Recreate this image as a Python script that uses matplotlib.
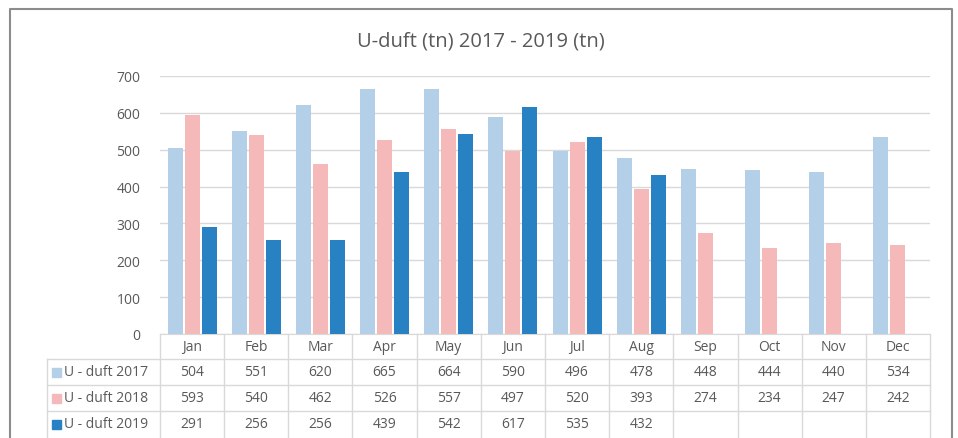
import matplotlib.pyplot as plt
import matplotlib.transforms as mtransforms
import numpy as np

# data
months = ["Jan", "Feb", "Mar", "Apr", "May", "Jun", "Jul", "Aug", "Sep", "Oct", "Nov", "Dec"]
series_names = ["U - duft 2017", "U - duft 2018", "U - duft 2019"]
duft_2017 = [504, 551, 620, 665, 664, 590, 496, 478, 448, 444, 440, 534]
duft_2018 = [593, 540, 462, 526, 557, 497, 520, 393, 274, 234, 247, 242]
duft_2019 = [291, 256, 256, 439, 542, 617, 535, 432, None, None, None, None]
y_ticks = [0, 100, 200, 300, 400, 500, 600, 700]

colors = ["#B3D0E8", "#F5B9B9", "#2781C2"]
grid_col = "#D9D9D9"
text_col = "#595959"
plt.rcParams["font.family"] = ["Open Sans", "DejaVu Sans"]

W, H = 958, 439
fig = plt.figure(figsize=(W / 100, H / 100), dpi=100)

def fx(px):
    return px / W

def fy(py):
    return 1 - py / H

# outer chart border (bottom edge is cut off in the picture)
frame_x = [fx(10), fx(10), fx(952), fx(952)]
frame_y = [fy(440), fy(10), fy(10), fy(440)]
fig.add_artist(plt.Line2D(frame_x, frame_y, transform=fig.transFigure, color="#8C8C8C", lw=1.5))

ax = fig.add_axes([fx(160), fy(335), fx(930) - fx(160), fy(77) - fy(335)])
x = np.arange(len(months))
all_series = [duft_2017, duft_2018, duft_2019]
offsets = [-0.265, 0, 0.265]
for vals, off, c in zip(all_series, offsets, colors):
    v = np.array([np.nan if a is None else a for a in vals], dtype=float)
    ax.bar(x + off, v, width=0.235, color=c, zorder=3)

ax.set_xlim(-0.5, len(months) - 0.5)
ax.set_ylim(0, 700)
ax.set_yticks(y_ticks)
ax.set_yticklabels([str(t) for t in y_ticks], fontsize=10, color=text_col)
ax.tick_params(axis="y", length=0, pad=14)
ax.tick_params(axis="x", length=0, labelbottom=False)
ax.grid(axis="y", color=grid_col, lw=1, zorder=0)
for s in ["top", "right", "left"]:
    ax.spines[s].set_visible(False)
ax.spines["bottom"].set_color(grid_col)

fig.text(fx(481), fy(41), "U-duft (tn) 2017 - 2019 (tn)", ha="center", va="center",
         fontsize=14.5, color=text_col)

# data table under the axis
tr = mtransforms.blended_transform_factory(ax.transData, fig.transFigure)
row_y = [335, 360, 386, 412, 438]
for xb in np.arange(-0.5, len(months) + 0.5, 1):
    ax.plot([xb, xb], [fy(335), fy(440)], transform=tr, color=grid_col, lw=1, clip_on=False)
for ry in row_y[1:4]:
    fig.add_artist(plt.Line2D([fx(47), fx(930)], [fy(ry), fy(ry)],
                              transform=fig.transFigure, color=grid_col, lw=1))
fig.add_artist(plt.Line2D([fx(47), fx(47)], [fy(360), fy(440)],
                          transform=fig.transFigure, color=grid_col, lw=1))

for i, m in enumerate(months):
    ax.text(i, fy(348), m, transform=tr, ha="center", va="center", fontsize=10, color=text_col)
for r, (name, vals, c) in enumerate(zip(series_names, all_series, colors)):
    yc = (row_y[r + 1] + row_y[r + 2]) / 2
    fig.add_artist(plt.Rectangle((fx(52), fy(yc + 4.5)), fx(9), 9 / H,
                                 transform=fig.transFigure, color=c))
    fig.text(fx(64), fy(yc), name, ha="left", va="center", fontsize=10, color=text_col)
    for i, v in enumerate(vals):
        if v is not None:
            ax.text(i, fy(yc), str(v), transform=tr, ha="center", va="center",
                    fontsize=10, color=text_col)

fig.savefig("out.png", dpi=100)
